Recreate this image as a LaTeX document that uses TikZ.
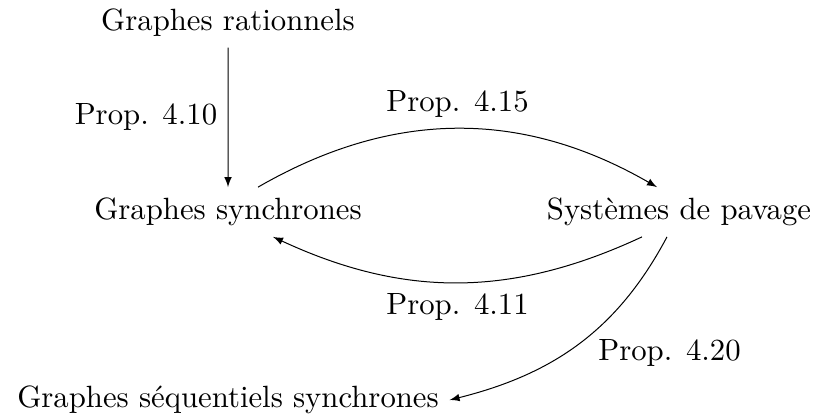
\documentclass[tikz,border=0pt]{standalone}
\usetikzlibrary{arrows}
\begin{document}
\begin{tikzpicture}[x=0.4pt,y=-0.4pt,every node/.style={scale=1.23},
  fleche/.style={-latex,thin}]
\useasboundingbox (0,0) rectangle (818,419);
% les graphes
\node (rat) at (228,23) {Graphes rationnels};
\node (syn) at (228,212) {Graphes synchrones};
\node (pav) at (679,212) {Syst\`emes de pavage};
\node (seq) at (228,400) {Graphes s\'equentiels synchrones};
% les propositions
\draw[fleche] (rat) -- node[left=0pt] {Prop. 4.10} (syn);
\draw[fleche] ([xshift=12pt]syn.north) to[out=30,in=150]
  node[above=0pt] {Prop. 4.15} ([xshift=-8.8pt]pav.north);
\draw[fleche] ([xshift=-14.8pt]pav.south) to[out=205,in=-25]
  node[below=0pt] {Prop. 4.11} ([xshift=18pt]syn.south);
\draw[fleche] ([xshift=-4.8pt]pav.south) to[out=242,in=14]
  node[pos=0.5,anchor=west,xshift=3pt,yshift=-3pt] {Prop. 4.20} (seq.east);
\end{tikzpicture}
\end{document}
